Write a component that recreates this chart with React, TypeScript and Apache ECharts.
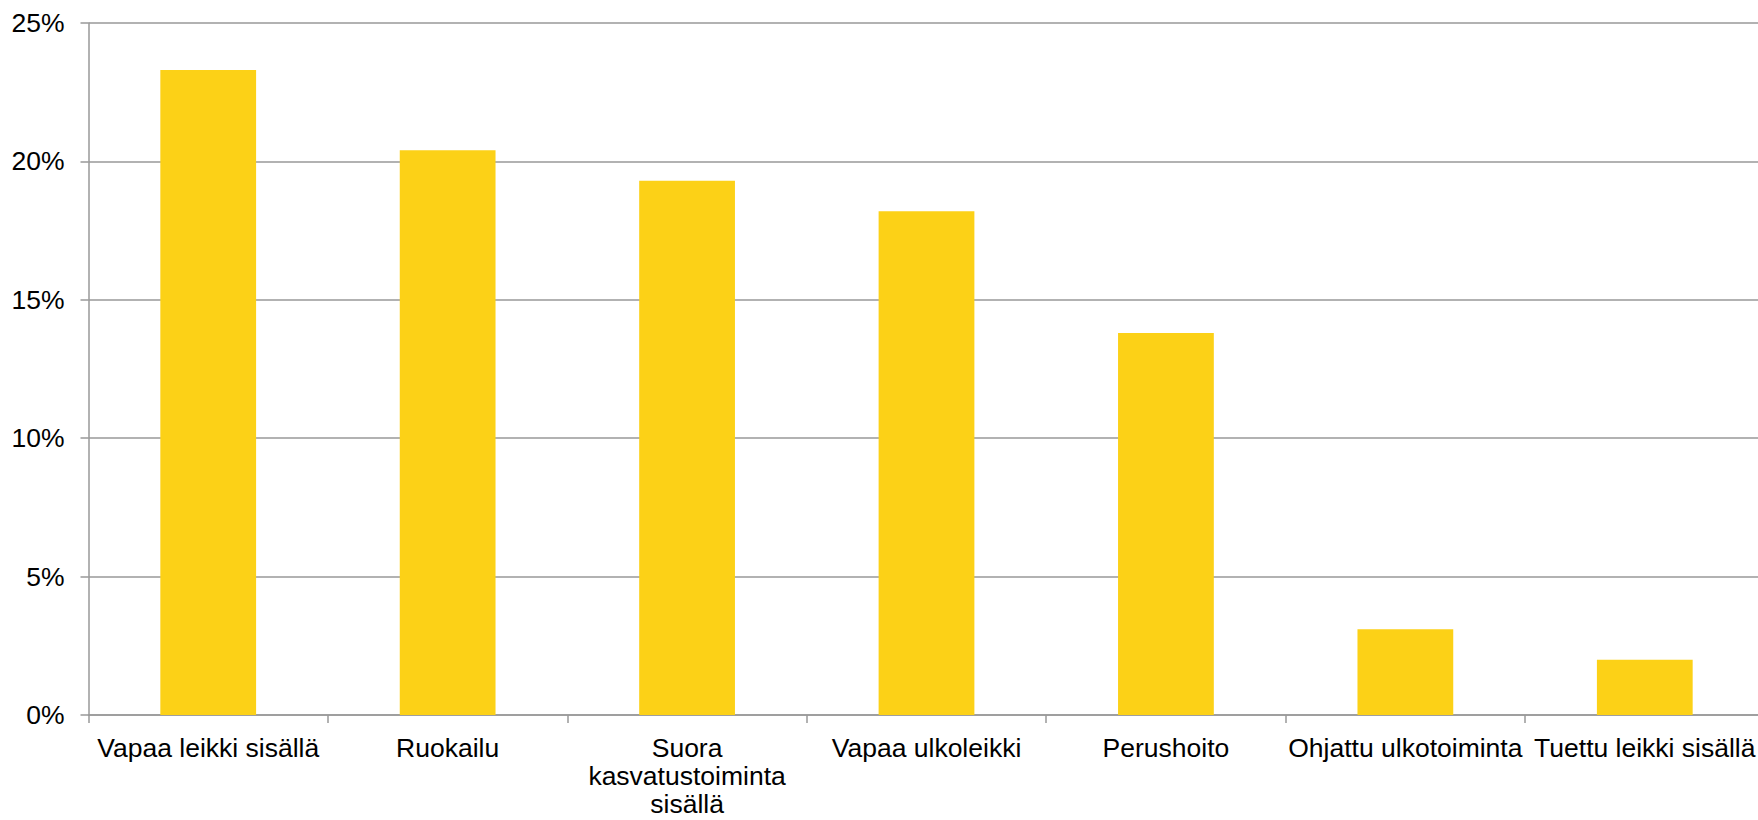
import React, { useEffect, useRef } from "react";
import * as echarts from "echarts";

const categories = [
  "Vapaa leikki sisällä",
  "Ruokailu",
  "Suora\nkasvatustoiminta\nsisällä",
  "Vapaa ulkoleikki",
  "Perushoito",
  "Ohjattu ulkotoiminta",
  "Tuettu leikki sisällä",
];
const values = [23.3, 20.4, 19.3, 18.2, 13.8, 3.1, 2.0];
const yTicks = { min: 0, max: 25, interval: 5 };

export default function App() {
  const ref = useRef<HTMLDivElement>(null);
  useEffect(() => {
    if (!ref.current) return;
    const chart = echarts.init(ref.current, undefined, { renderer: "svg" });
    const grey = "#999999";
    const font = "Liberation Sans, Arial, sans-serif";
    chart.setOption({
      animation: false,
      backgroundColor: "#ffffff",
      grid: {
        left: 88.5,
        right: -6.5,
        top: 23,
        bottom: 105,
        containLabel: false,
        outerBoundsMode: "none",
      },
      xAxis: {
        type: "category",
        data: categories,
        axisLine: { show: true, lineStyle: { color: grey, width: 1.5 } },
        axisTick: { show: true, length: 8, lineStyle: { color: grey, width: 1.5 } },
        axisLabel: {
          interval: 0,
          margin: 18.5,
          color: "#000000",
          fontFamily: font,
          fontSize: 26.5,
          lineHeight: 28,
          hideOverlap: false,
        },
      },
      yAxis: {
        type: "value",
        min: yTicks.min,
        max: yTicks.max,
        interval: yTicks.interval,
        axisLine: { show: true, lineStyle: { color: grey, width: 1.5 } },
        axisTick: { show: true, length: 8, lineStyle: { color: grey, width: 1.5 } },
        splitLine: { show: true, lineStyle: { color: grey, width: 1.5 } },
        axisLabel: {
          formatter: "{value}%",
          margin: 24,
          color: "#000000",
          fontFamily: font,
          fontSize: 26.5,
        },
      },
      series: [
        {
          type: "bar",
          data: values,
          barWidth: "40%",
          itemStyle: { color: "#FCD117" },
        },
      ],
    });
    return () => chart.dispose();
  }, []);
  return (
    <div
      ref={ref}
      style={{ position: "absolute", left: 0, top: 0, width: 1758, height: 820 }}
    />
  );
}
